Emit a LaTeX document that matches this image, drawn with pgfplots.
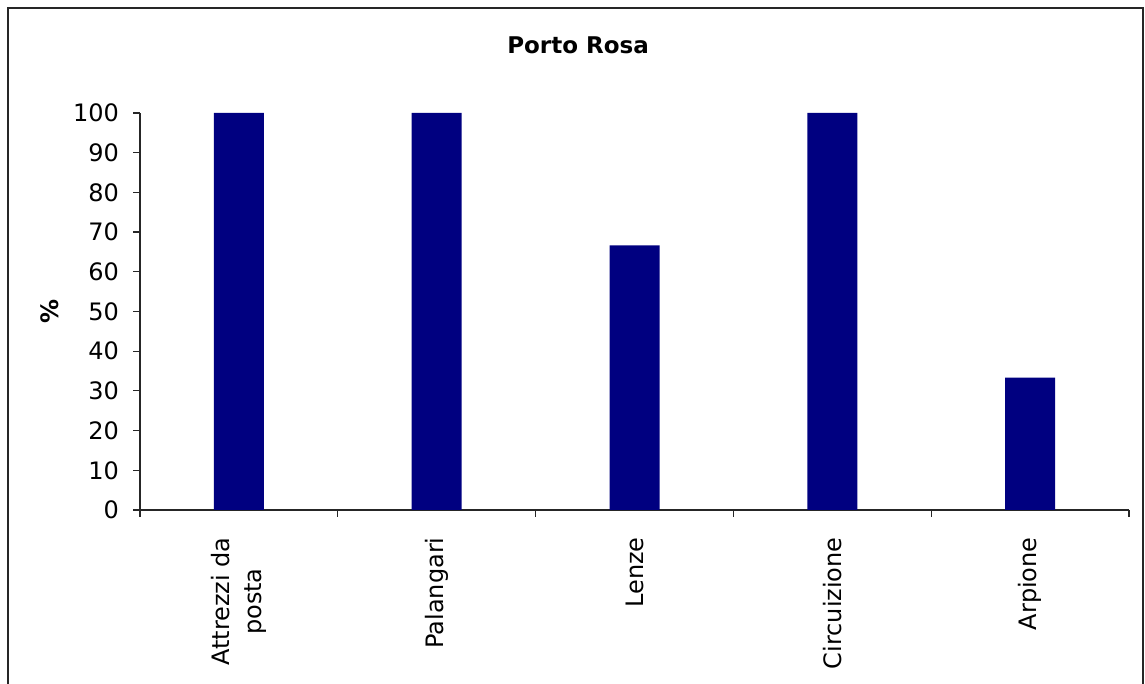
\documentclass[border=0pt]{standalone}
\usepackage{fontspec}
\setmainfont{DejaVu Sans}
\usepackage{pgfplots}
\pgfplotsset{compat=1.18}
\definecolor{barnavy}{RGB}{0,0,128}
\begin{document}
\begin{tikzpicture}
\clip (0,0) rectangle (572.5pt,342pt);
\draw[line width=1pt, black!85] (4pt,-3pt) rectangle (571.5pt,338pt);
\begin{axis}[
    at={(70pt,87pt)}, anchor=south west,
    scale only axis, width=494.5pt, height=198.5pt,
    axis lines*=left,
    axis line style={line width=0.6pt, black!85},
    xmin=-0.5, xmax=4.5, ymin=0, ymax=100,
    ytick={0,10,...,100},
    xtick={0,1,2,3,4},
    xticklabels={{Attrezzi da\\posta},Palangari,Lenze,Circuizione,Arpione},
    minor xtick={-0.5,0.5,1.5,2.5,3.5,4.5},
    major x tick style={draw=none},
    tick align=outside,
    major tick length=3.5pt, minor tick length=3.5pt,
    tick style={line width=0.6pt, black!85},
    /pgf/number format/assume math mode=true,
    tick label style={font=\fontsize{12}{16}\selectfont},
    yticklabel style={xshift=-3.5pt},
    xticklabel style={rotate=90, anchor=east, align=center, inner xsep=10pt},
    title={\textbf{Porto Rosa}},
    title style={at={(axis description cs:0.4429,1)}, anchor=base, yshift=23.5pt,
                 font=\fontsize{11.5}{14}\selectfont},
    ylabel={\textbf{\%}},
    ylabel style={at={(axis description cs:-0.091,0.5)}, anchor=center,
                  font=\fontsize{12}{14}\selectfont},
    ybar, bar width=25pt,
]
\addplot[fill=barnavy, draw=none] coordinates {(0,100) (1,100) (2,66.67) (3,100) (4,33.33)};
\end{axis}
\end{tikzpicture}
\end{document}
